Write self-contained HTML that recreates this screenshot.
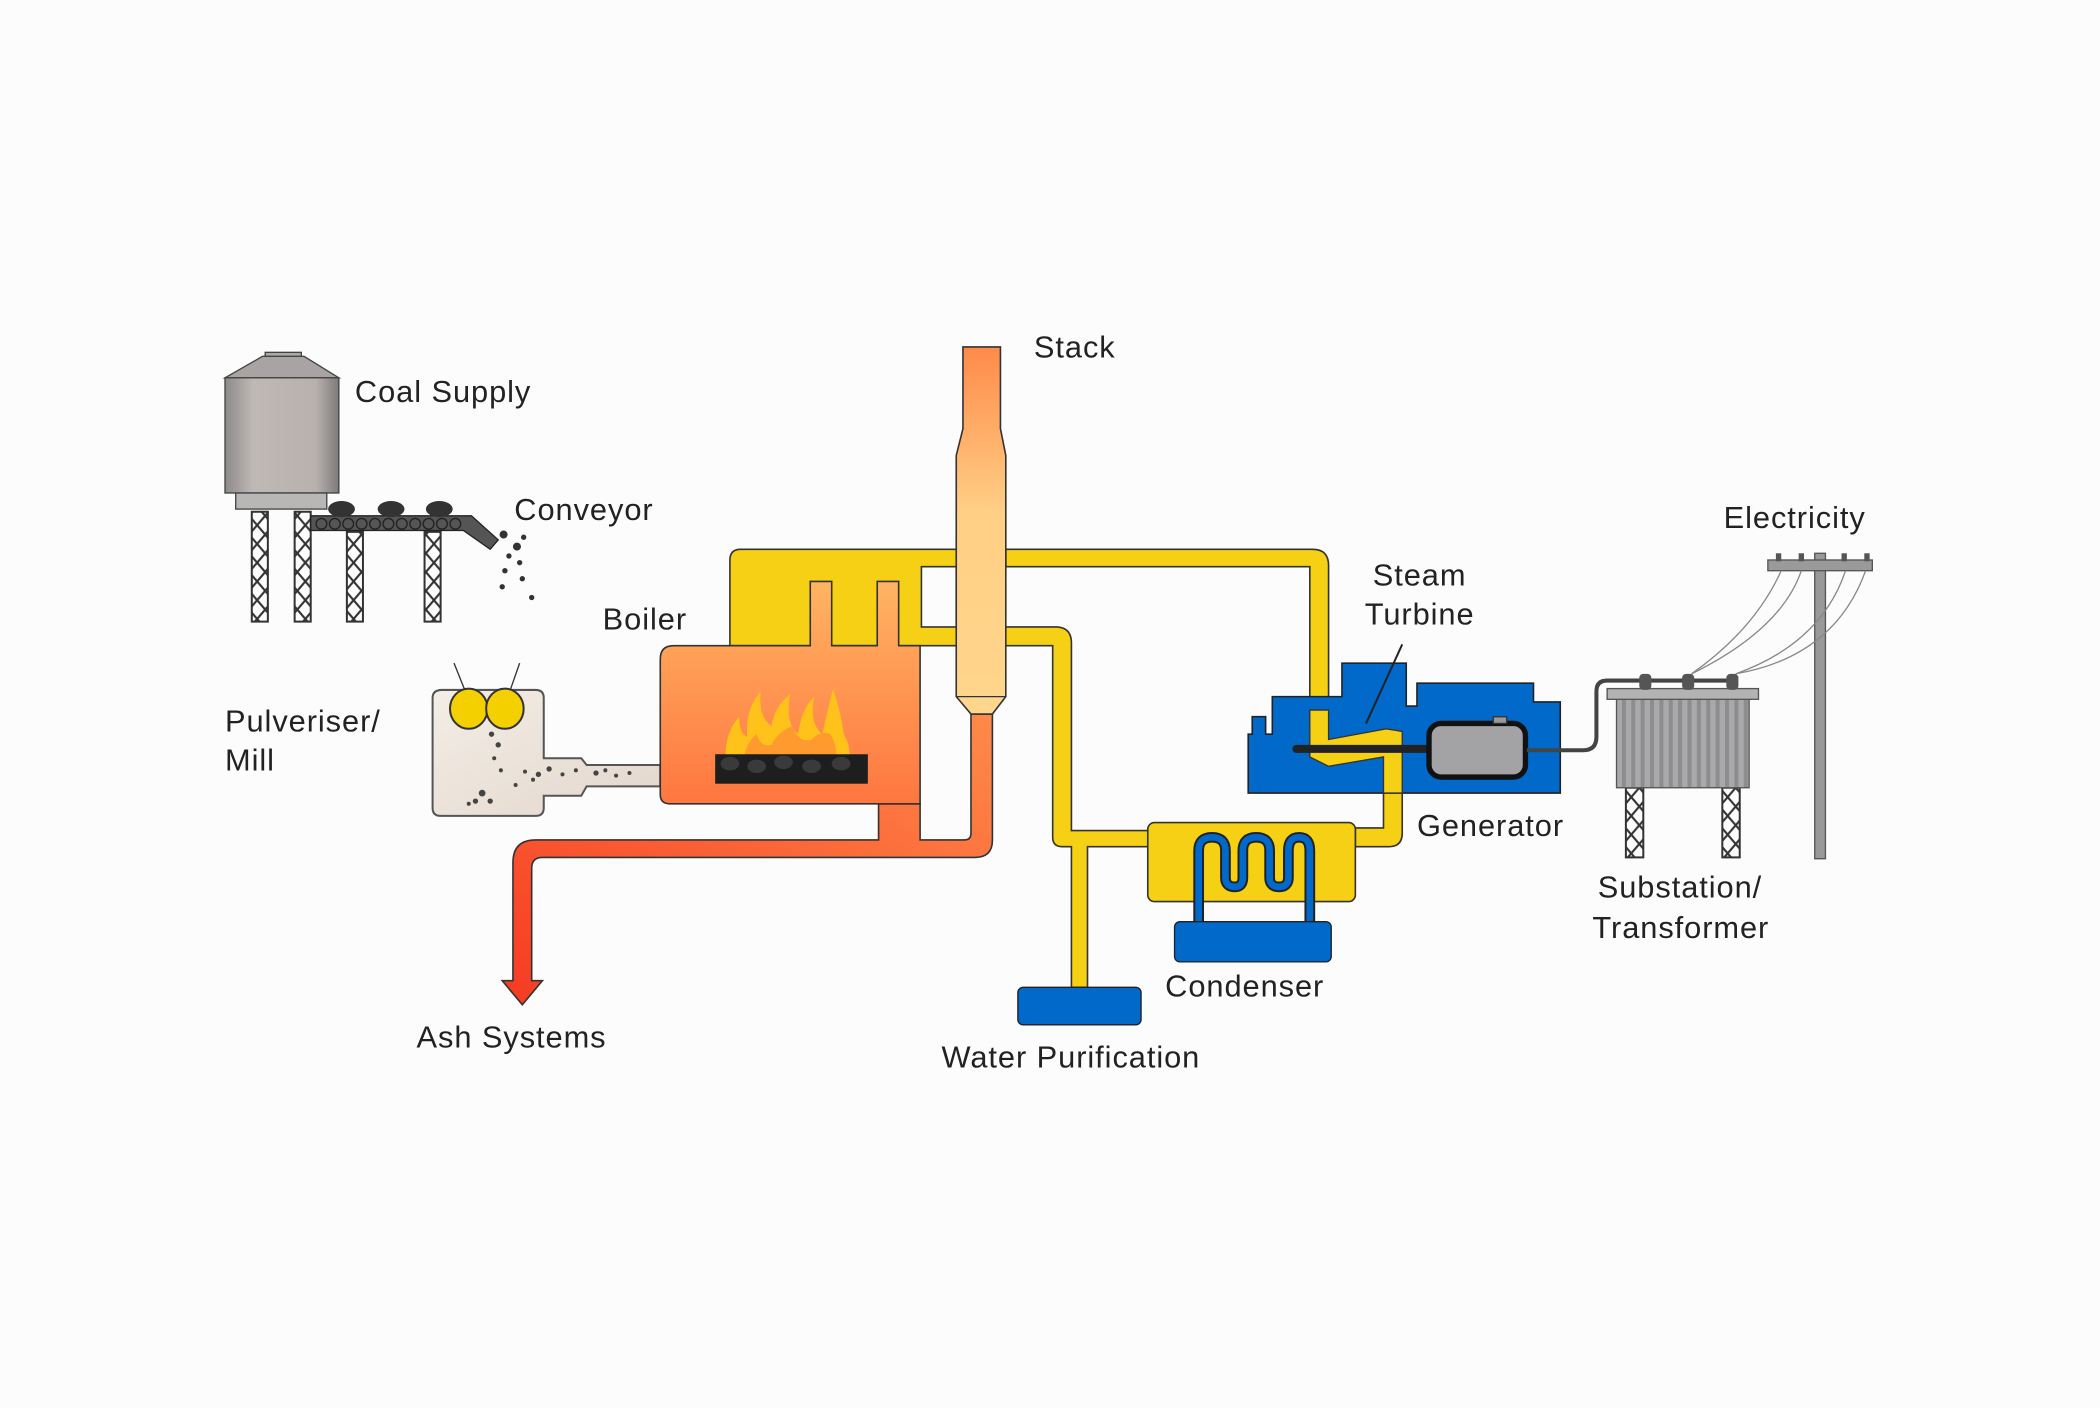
<!DOCTYPE html>
<html><head><meta charset="utf-8"><style>
html,body{margin:0;padding:0;background:#fdfcfd;}
svg{display:block;}
text{font-family:"Liberation Sans",sans-serif;font-size:23px;letter-spacing:0.7px;fill:#222;}
</style></head><body>
<svg width="2100" height="1408" viewBox="0 0 1568 1051" preserveAspectRatio="none" xmlns="http://www.w3.org/2000/svg">
<defs>
<linearGradient id="stk" x1="0" y1="0" x2="0" y2="1"><stop offset="0" stop-color="#ff8a4a"/><stop offset="0.45" stop-color="#ffcf85"/><stop offset="1" stop-color="#ffd68c"/></linearGradient>
<linearGradient id="boil" x1="0" y1="0" x2="0" y2="1"><stop offset="0" stop-color="#ffb462"/><stop offset="1" stop-color="#ff7640"/></linearGradient>
<linearGradient id="ash" x1="1" y1="0" x2="0" y2="1"><stop offset="0" stop-color="#ff8a4a"/><stop offset="1" stop-color="#f63a22"/></linearGradient>
<linearGradient id="silo" x1="0" y1="0" x2="1" y2="0"><stop offset="0" stop-color="#8e8a8a"/><stop offset="0.25" stop-color="#bfb9b6"/><stop offset="0.8" stop-color="#b8b1ae"/><stop offset="1" stop-color="#7d7a7a"/></linearGradient>
<linearGradient id="pulv" x1="0" y1="0" x2="1" y2="1"><stop offset="0" stop-color="#f4eee6"/><stop offset="1" stop-color="#e2d6cc"/></linearGradient>
<pattern id="lat" width="12" height="14" patternUnits="userSpaceOnUse"><path d="M0 0 L12 14 M12 0 L0 14" fill="none" stroke="#333" stroke-width="1.6"/></pattern>
<pattern id="stripe" width="7" height="10" patternUnits="userSpaceOnUse"><rect width="7" height="10" fill="#a9a9ab"/><rect width="3" height="10" fill="#8d8d90"/></pattern>
</defs>

<!-- Silo -->
<rect x="198" y="263" width="27" height="4" fill="#aaa" stroke="#444"/>
<path d="M168 282 L196 266 L227 266 L253 282 Z" fill="#a9a4a3" stroke="#444"/>
<rect x="168" y="282" width="85" height="86" fill="url(#silo)" stroke="#444"/>
<rect x="176" y="368" width="68" height="12" fill="#b9b6b6" stroke="#444"/>
<g stroke="#333" stroke-width="1.5" fill="url(#lat)">
<rect x="188" y="382" width="12" height="82"/><rect x="220" y="382" width="12" height="82"/><rect x="259" y="397" width="12" height="67"/><rect x="317" y="397" width="12" height="67"/>
</g>
<!-- conveyor -->
<path d="M232 385 L352 385 L372 403 L366 410 L346 396 L232 396 Z" fill="#555" stroke="#222"/>
<g fill="none" stroke="#222" stroke-width="1"><circle cx="240" cy="391" r="4"/><circle cx="250" cy="391" r="4"/><circle cx="260" cy="391" r="4"/><circle cx="270" cy="391" r="4"/><circle cx="280" cy="391" r="4"/><circle cx="290" cy="391" r="4"/><circle cx="300" cy="391" r="4"/><circle cx="310" cy="391" r="4"/><circle cx="320" cy="391" r="4"/><circle cx="330" cy="391" r="4"/><circle cx="340" cy="391" r="4"/></g>
<g fill="#333"><ellipse cx="255" cy="380" rx="10" ry="6"/><ellipse cx="292" cy="380" rx="10" ry="6"/><ellipse cx="328" cy="380" rx="10" ry="6"/>
<circle cx="376" cy="399" r="3"/><circle cx="386" cy="408" r="3"/><circle cx="391" cy="401" r="2"/><circle cx="380" cy="415" r="2"/><circle cx="388" cy="420" r="2"/><circle cx="377" cy="426" r="2"/><circle cx="375" cy="438" r="2"/><circle cx="397" cy="446" r="2"/><circle cx="390" cy="432" r="2"/></g>

<!-- Pulveriser -->
<path d="M330 515 L400 515 Q406 515 406 521 L406 566 L434 566 L438 571 L493 571 L493 587 L438 587 L434 594 L406 594 L406 603 Q406 609 400 609 L329 609 Q323 609 323 603 L323 521 Q323 515 330 515 Z" fill="url(#pulv)" stroke="#555" stroke-width="1.5"/>
<line x1="339" y1="495" x2="347" y2="515" stroke="#333"/><line x1="388" y1="495" x2="381" y2="515" stroke="#333"/>
<ellipse cx="350" cy="529" rx="14" ry="15" fill="#f5d000" stroke="#333" stroke-width="1.5"/><ellipse cx="377" cy="529" rx="14" ry="15" fill="#f5d000" stroke="#333" stroke-width="1.5"/>
<g fill="#444"><circle cx="367" cy="548" r="2"/><circle cx="372" cy="556" r="2"/><circle cx="369" cy="566" r="1.5"/><circle cx="374" cy="575" r="1.5"/><circle cx="360" cy="592" r="2.5"/><circle cx="355" cy="598" r="2"/><circle cx="366" cy="598" r="2"/><circle cx="350" cy="600" r="1.5"/><circle cx="392" cy="576" r="1.5"/><circle cx="402" cy="578" r="2"/><circle cx="410" cy="574" r="2"/><circle cx="420" cy="578" r="1.5"/><circle cx="430" cy="575" r="1.5"/><circle cx="445" cy="577" r="2"/><circle cx="452" cy="575" r="1.5"/><circle cx="460" cy="579" r="1.5"/><circle cx="470" cy="577" r="1.5"/><circle cx="385" cy="586" r="1.5"/><circle cx="398" cy="582" r="1.5"/></g>

<!-- Yellow pipes -->
<g fill="#f5d015" stroke="#333" stroke-width="1.2">
<path d="M545 482 L545 418 Q545 410 553 410 L980 410 Q992 410 992 422 L992 560 L1035 545 L1047 545 L1047 622 Q1047 632 1037 632 L1012 632 L1012 618 L1033 618 L1033 565 L992 572 L978 565 L978 423 L751 423 L751 410 L751 423 L715 423 L715 468 L788 468 Q800 468 800 480 L800 620 L858 620 L858 632 L812 632 L812 737 L800 737 L800 632 L793 632 Q786 632 786 625 L786 482 L687 482 Z"/>
<rect x="857" y="614" width="155" height="59" rx="5"/>
</g>
<rect x="688" y="423" width="26" height="45" fill="#fdfcfd" stroke="#333" stroke-width="1.2"/>

<!-- Turbine / Generator blue -->
<path d="M932 592 L932 548 L935 548 L935 535 L945 535 L945 548 L950 548 L950 520 L1002 520 L1002 495 L1050 495 L1050 527 L1058 527 L1058 510 L1145 510 L1145 524 L1165 524 L1165 592 Z" fill="#0069c9" stroke="#222" stroke-width="1.2"/>
<path d="M978 530 L978 565 L992 572 L1033 565 L1033 592 L1047 592 L1047 546 L1035 544 L992 552 L992 530 Z" fill="#f5d015" stroke="#333"/>
<line x1="1047" y1="481" x2="1020" y2="540" stroke="#222" stroke-width="1.5"/>
<line x1="968" y1="559" x2="1068" y2="559" stroke="#222" stroke-width="6" stroke-linecap="round"/>
<rect x="1067" y="540" width="72" height="40" rx="9" fill="#a3a3a6" stroke="#111" stroke-width="4"/>
<rect x="1115" y="535" width="10" height="5" fill="#999" stroke="#333"/>
<path d="M1140 560 L1182 560 Q1192 560 1192 550 L1192 516 Q1192 508 1200 508 L1295 508" fill="none" stroke="#444" stroke-width="3"/>

<!-- Transformer -->
<g stroke="#333" stroke-width="1.5" fill="url(#lat)"><rect x="1214" y="588" width="13" height="52"/><rect x="1286" y="588" width="13" height="52"/></g>
<rect x="1207" y="522" width="99" height="66" fill="url(#stripe)" stroke="#555"/>
<rect x="1200" y="514" width="113" height="8" fill="#b3b3b3" stroke="#555"/>
<g fill="#555"><rect x="1224" y="503" width="9" height="12" rx="3"/><rect x="1256" y="503" width="9" height="12" rx="3"/><rect x="1289" y="503" width="9" height="12" rx="3"/></g>
<!-- Pole -->
<rect x="1355" y="413" width="8" height="228" fill="#999" stroke="#555"/>
<rect x="1320" y="418" width="78" height="8" fill="#9a9a9a" stroke="#555"/>
<g fill="#555"><rect x="1326" y="413" width="4" height="6"/><rect x="1343" y="413" width="4" height="6"/><rect x="1375" y="413" width="4" height="6"/><rect x="1392" y="413" width="4" height="6"/></g>
<g fill="none" stroke="#888" stroke-width="1"><path d="M1263 503 Q1310 470 1330 426"/><path d="M1263 503 Q1330 470 1345 426"/><path d="M1296 503 Q1360 480 1378 426"/><path d="M1296 503 Q1370 490 1393 426"/></g>

<!-- Condenser coil -->
<path d="M895 688 L895 635 Q895 625 905 625 Q915 625 915 635 L915 655 Q915 662 922 662 Q928 662 928 655 L928 635 Q928 625 938 625 Q948 625 948 635 L948 655 Q948 662 955 662 Q962 662 962 655 L962 635 Q962 625 970 625 Q978 625 978 635 L978 688" fill="none" stroke="#222" stroke-width="8"/>
<path d="M895 688 L895 635 Q895 625 905 625 Q915 625 915 635 L915 655 Q915 662 922 662 Q928 662 928 655 L928 635 Q928 625 938 625 Q948 625 948 635 L948 655 Q948 662 955 662 Q962 662 962 655 L962 635 Q962 625 970 625 Q978 625 978 635 L978 688" fill="none" stroke="#0069c9" stroke-width="5"/>
<rect x="877" y="688" width="117" height="30" rx="4" fill="#0069c9" stroke="#222"/>
<rect x="760" y="737" width="92" height="28" rx="4" fill="#0069c9" stroke="#222"/>

<!-- Ash pipe -->
<path d="M656 600 L656 627 L400 627 Q383 627 383 644 L383 732 L375 732 L390 750 L405 732 L397 732 L397 648 Q397 640 405 640 L728 640 Q741 640 741 627 L741 533 L725 533 L725 622 Q725 627 720 627 L687 627 L687 600 Z" fill="url(#ash)" stroke="#333" stroke-width="1.2"/>

<!-- Boiler -->
<path d="M503 482 L605 482 L605 434 L621 434 L621 482 L655 482 L655 434 L671 434 L671 482 L687 482 L687 600 L500 600 Q493 600 493 593 L493 492 Q493 482 503 482 Z" fill="url(#boil)" stroke="#333" stroke-width="1.2"/>
<path d="M542 570 Q540 548 552 535 Q552 548 558 550 Q556 530 568 516 Q566 535 576 542 Q578 528 590 518 Q586 540 596 548 Q598 530 608 520 Q604 540 614 548 Q618 530 622 514 Q628 532 630 548 Q636 558 634 570 Z" fill="#ffc21a"/>
<path d="M555 570 Q556 555 565 548 Q568 558 576 556 Q582 545 592 542 Q596 555 606 552 Q613 545 620 548 Q626 558 624 570 Z" fill="#ff9a2e"/>
<rect x="534" y="563" width="114" height="22" fill="#1e1e1e"/>
<g fill="#3a3a3a"><ellipse cx="545" cy="570" rx="7" ry="5"/><ellipse cx="565" cy="572" rx="7" ry="5"/><ellipse cx="585" cy="569" rx="7" ry="5"/><ellipse cx="606" cy="572" rx="7" ry="5"/><ellipse cx="628" cy="570" rx="7" ry="5"/></g>

<!-- Stack -->
<path d="M719 259 L747 259 L747 320 L751 340 L751 520 L741 533 L725 533 L714 520 L714 340 L719 320 Z" fill="url(#stk)" stroke="#333" stroke-width="1.2"/>
<line x1="714" y1="520" x2="751" y2="520" stroke="#333"/>

<!-- Labels -->
<text x="265" y="300">Coal Supply</text>
<text x="384" y="388">Conveyor</text>
<text x="450" y="470">Boiler</text>
<text x="168" y="546">Pulveriser/</text>
<text x="168" y="575">Mill</text>
<text x="772" y="267">Stack</text>
<text x="1025" y="437">Steam</text>
<text x="1019" y="466">Turbine</text>
<text x="1287" y="394">Electricity</text>
<text x="1058" y="624">Generator</text>
<text x="1193" y="670">Substation/</text>
<text x="1189" y="700">Transformer</text>
<text x="870" y="744">Condenser</text>
<text x="703" y="797">Water Purification</text>
<text x="311" y="782">Ash Systems</text>
</svg>
</body></html>
